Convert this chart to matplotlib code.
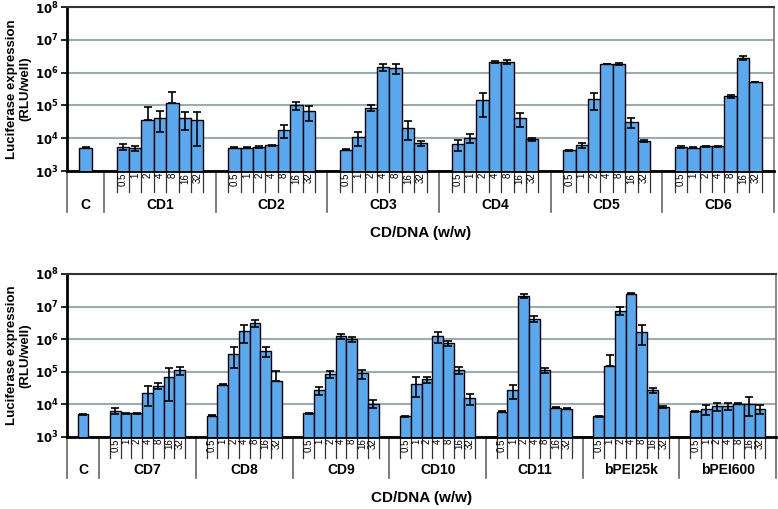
import numpy as np
import matplotlib
matplotlib.use("Agg")
import matplotlib.pyplot as plt
from matplotlib import transforms

plt.rcParams['font.family'] = ['Liberation Sans', 'DejaVu Sans']

ratios = ['0.5', '1', '2', '4', '8', '16', '32']

# upper panel
top_groups = ['CD1', 'CD2', 'CD3', 'CD4', 'CD5', 'CD6']
top_control = 5100
top_control_err = 150
top_means = [
    [5500, 4900, 35000, 41000, 118000, 41000, 35000],
    [5200, 5200, 5300, 6100, 17500, 100000, 66000],
    [4400, 11000, 83000, 1.5e6, 1.38e6, 21000, 7000],
    [6600, 10200, 145000, 2.1e6, 2.1e6, 41000, 9300],
    [4300, 6100, 156000, 1.83e6, 1.8e6, 31000, 8300],
    [5400, 5200, 5700, 5700, 194000, 2.8e6, 515000],
]
top_errs = [
    [1000, 800, 52000, 26000, 145000, 23000, 29000],
    [200, 200, 300, 300, 7500, 26000, 33000],
    [150, 5000, 17000, 3.5e5, 5e5, 12000, 1000],
    [2400, 3200, 100000, 1e5, 3e5, 19000, 900],
    [150, 1000, 85000, 5e4, 1.5e5, 10500, 800],
    [200, 150, 200, 200, 20000, 4e5, 15000],
]

# lower panel
bottom_groups = ['CD7', 'CD8', 'CD9', 'CD10', 'CD11', 'bPEI25k', 'bPEI600']
bottom_control = 5000
bottom_control_err = 150
bottom_means = [
    [6400, 5300, 5300, 22800, 37000, 71000, 112000],
    [4500, 40000, 355000, 1.78e6, 3.1e6, 440000, 51000],
    [5300, 27500, 83000, 1.23e6, 1.0e6, 89000, 10400],
    [4300, 42000, 58000, 1.23e6, 7.6e5, 112000, 15500],
    [6000, 27000, 2.1e7, 4.3e6, 112000, 8000, 7400],
    [4300, 155000, 7.4e6, 2.45e7, 1.66e6, 27000, 8300],
    [6100, 7100, 8800, 8800, 10600, 10400, 7200],
]
bottom_errs = [
    [1200, 150, 150, 14000, 7500, 58000, 30000],
    [150, 1500, 220000, 1e6, 7e5, 150000, 56000],
    [150, 7500, 20000, 2e5, 1.8e5, 27000, 2800],
    [150, 25000, 13000, 4.5e5, 1.5e5, 29000, 6000],
    [150, 12000, 2.7e6, 1e6, 23000, 300, 300],
    [150, 170000, 2e6, 8e5, 1e6, 5000, 700],
    [150, 2400, 2400, 2200, 600, 6000, 2200],
]

bar_color = '#5aa9ee'
grid_color = '#9aabb2'


def draw_panel(ax, control, control_err, groups, means, errs):
    n_cat = 3 + 9 * len(groups)
    xs = [1]
    vals = [control]
    errs_flat = [control_err]
    for g in range(len(groups)):
        for k in range(7):
            xs.append(4 + 9 * g + k)
            vals.append(means[g][k])
            errs_flat.append(errs[g][k])
    xs = np.array(xs)
    vals = np.array(vals, dtype=float)
    errs_flat = np.array(errs_flat, dtype=float)
    # Excel drops the lower bar when it would go below zero on a log axis
    lower = np.where(errs_flat < vals, errs_flat, 0)

    ax.set_yscale('log')
    ax.set_ylim(1e3, 1e8)
    ax.set_xlim(-0.5, n_cat - 0.5)
    ax.bar(xs, vals, width=1.0, color=bar_color, edgecolor='black',
           linewidth=1.0, zorder=3)
    ax.errorbar(xs, vals, yerr=[lower, errs_flat], fmt='none', ecolor='black',
                elinewidth=1.2, capsize=3, capthick=1.2, zorder=4)

    ax.yaxis.grid(True, which='major', color=grid_color, linewidth=1.5, zorder=0)
    ax.set_axisbelow(True)
    ax.set_xticks([])
    ax.set_yticks([1e3, 1e4, 1e5, 1e6, 1e7, 1e8])
    ax.set_yticklabels([r'$\mathbf{10^{%d}}$' % p for p in range(3, 9)], fontsize=8.5)
    ax.tick_params(axis='y', which='major', length=4, width=1.2, pad=2)
    ax.tick_params(axis='y', which='minor', length=2, width=0.8)
    ax.spines['left'].set_linewidth(2.0)
    ax.spines['bottom'].set_linewidth(2.0)
    ax.spines['top'].set_color('#333333')
    ax.spines['top'].set_linewidth(1.5)
    ax.spines['right'].set_color('#777777')
    ax.spines['right'].set_linewidth(1.2)

    trans = transforms.blended_transform_factory(ax.transData, ax.transAxes)
    band = -0.128
    sep = -0.25
    # group separators
    for x in [-0.5] + [2.5 + 9 * g for g in range(len(groups) + 1)]:
        ax.plot([x, x], [0, sep], color='#666666', lw=1.2, transform=trans,
                clip_on=False)
    ax.text(1, -0.205, 'C', transform=trans, ha='center', va='center',
            fontsize=10, fontweight='bold')
    for g, name in enumerate(groups):
        start = 3.5 + 9 * g
        for k in range(8):
            ax.plot([start + k, start + k], [0, band], color='#333333', lw=0.9,
                    transform=trans, clip_on=False)
        for k, r in enumerate(ratios):
            ax.text(start + k + 0.5, -0.01, r, transform=trans, rotation=90,
                    ha='center', va='top', fontsize=7)
        ax.text(7 + 9 * g, -0.205, name, transform=trans, ha='center',
                va='center', fontsize=10, fontweight='bold')
    ax.text(0.5, -0.375, 'CD/DNA (w/w)', transform=ax.transAxes, ha='center',
            va='center', fontsize=11, fontweight='bold')


fig = plt.figure(figsize=(7.78, 5.09), dpi=100)
ax_top = fig.add_axes([0.0861, 0.664, 0.9088, 0.3222])
ax_bot = fig.add_axes([0.0861, 0.1415, 0.9114, 0.3202])

draw_panel(ax_top, top_control, top_control_err, top_groups, top_means, top_errs)
draw_panel(ax_bot, bottom_control, bottom_control_err, bottom_groups,
           bottom_means, bottom_errs)

for y in [0.825, 0.3016]:
    fig.text(0.024, y, 'Luciferase expression\n(RLU/well)', rotation=90,
             ha='center', va='center', multialignment='center',
             fontsize=9.5, fontweight='bold', linespacing=1.2)

fig.savefig('out.png', dpi=100)
